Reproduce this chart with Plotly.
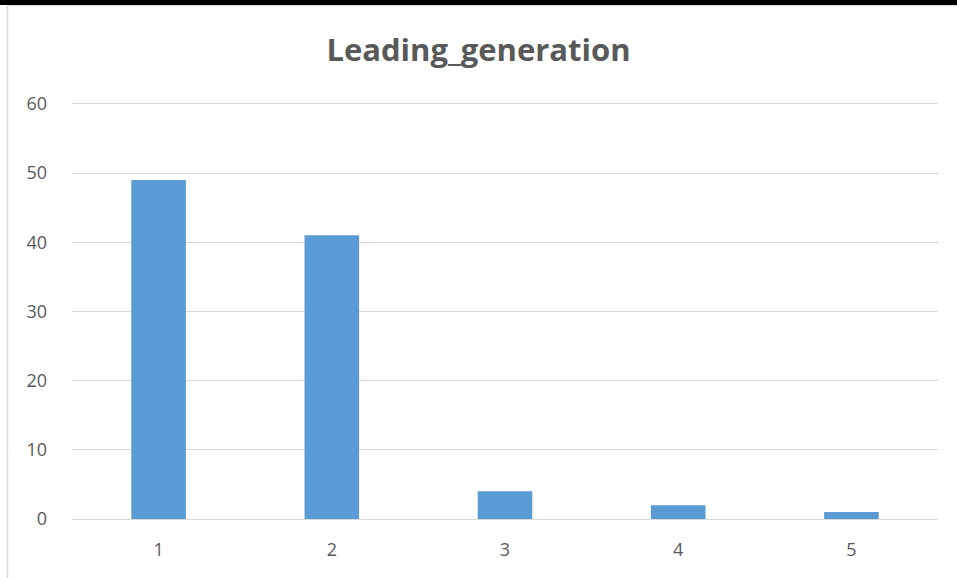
import plotly.graph_objects as go

# Counts per leading generation
categories = ["1", "2", "3", "4", "5"]
counts = [49, 41, 4, 2, 1]
y_ticks = [0, 10, 20, 30, 40, 50, 60]

W, H = 957, 578
ML, MR, MT, MB = 72, 19, 97, 59
Y_MAX = 61
plot_h = H - MT - MB
plot_w = W - ML - MR


def py(px):
    # page pixel row -> paper y coordinate
    return 1 - (px - MT) / plot_h


def px_(x):
    # page pixel column -> paper x coordinate
    return (x - ML) / plot_w


fig = go.Figure(
    go.Bar(
        x=categories,
        y=counts,
        marker=dict(color="#5b9bd5", line=dict(width=0)),
        hoverinfo="x+y",
    )
)

fig.update_layout(
    width=W,
    height=H,
    margin=dict(l=ML, r=MR, t=MT, b=MB),
    paper_bgcolor="white",
    plot_bgcolor="white",
    bargap=0.685,
    showlegend=False,
    title=dict(
        text="<b>Leading_generation</b>",
        x=0.5,
        xanchor="center",
        y=1 - 50 / H,
        yanchor="middle",
        font=dict(family="Open Sans", size=31, color="#595959"),
    ),
    xaxis=dict(
        type="category",
        showgrid=False,
        showline=True,
        linecolor="#d9d9d9",
        linewidth=1,
        ticks="",
        tickfont=dict(family="Open Sans", size=18, color="#595959"),
        ticklabelstandoff=14,
    ),
    yaxis=dict(
        range=[0, Y_MAX],
        tickvals=y_ticks,
        showgrid=True,
        gridcolor="#d9d9d9",
        gridwidth=1,
        zeroline=False,
        showline=False,
        ticks="",
        tickfont=dict(family="Open Sans", size=18, color="#595959"),
        ticklabelstandoff=24,
    ),
    shapes=[
        # black band across the top edge
        dict(type="rect", xref="paper", yref="paper",
             x0=px_(0), x1=px_(W), y0=py(5), y1=py(0),
             fillcolor="black", line=dict(width=0), layer="above"),
        # thin frame lines
        dict(type="line", xref="paper", yref="paper",
             x0=px_(8), x1=px_(W), y0=py(5.5), y1=py(5.5),
             line=dict(color="#d9d9d9", width=1)),
        dict(type="line", xref="paper", yref="paper",
             x0=px_(7.5), x1=px_(7.5), y0=py(5), y1=py(H),
             line=dict(color="#d9d9d9", width=1.5)),
    ],
)

fig.write_html("out.html")
